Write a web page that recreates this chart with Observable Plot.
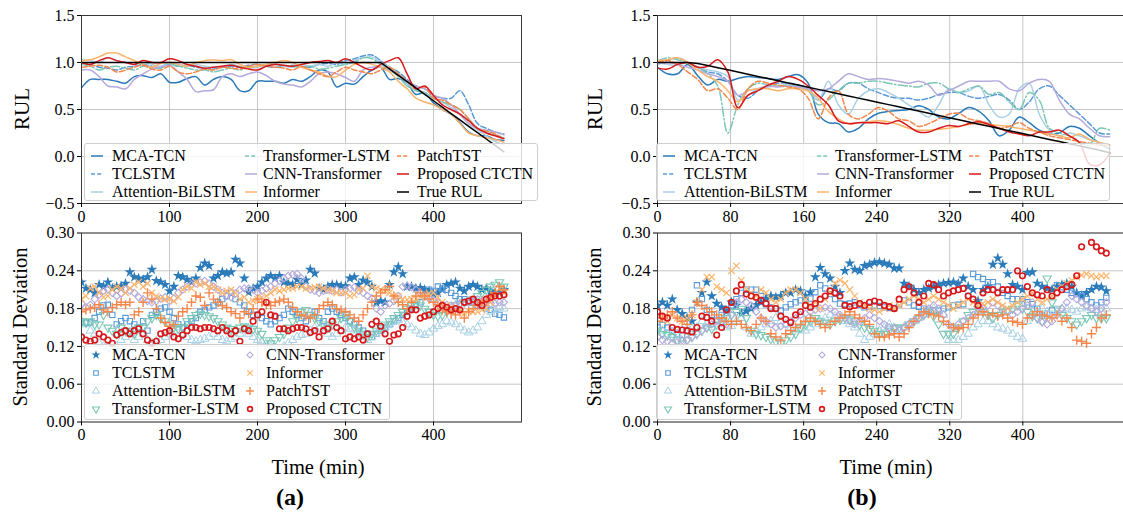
<!DOCTYPE html>
<html><head><meta charset="utf-8">
<script src="https://cdn.jsdelivr.net/npm/d3@7"></script>
<script src="https://cdn.jsdelivr.net/npm/@observablehq/plot@0.6"></script>
<style>
html,body{margin:0;padding:0;background:#fff;overflow:hidden}
#root{position:relative;width:1123px;height:514px;overflow:hidden;font-family:"Liberation Serif","Times New Roman",serif;color:#000}
#root svg text{font-family:"Liberation Serif","Times New Roman",serif !important;}
.txt{position:absolute;white-space:nowrap;line-height:1}
.legbox{position:absolute;background:rgba(255,255,255,0.8);border:1px solid #cfcfcf;border-radius:3px;box-sizing:border-box}
</style></head><body><div id="root"></div>
<script>
// ---------------- DATA ----------------
const names = ["MCA-TCN","TCLSTM","Attention-BiLSTM","Transformer-LSTM","CNN-Transformer","Informer","PatchTST","Proposed CTCTN"];
const colors = {"MCA-TCN":"#2b7bba","TCLSTM":"#5a9ad8","Attention-BiLSTM":"#a8d1e4","Transformer-LSTM":"#7cc7b6","CNN-Transformer":"#b5aadb","Informer":"#fdb46a","PatchTST":"#f4874b","Proposed CTCTN":"#d7191c","True RUL":"#000000"};

const xTicksA = [0,100,200,300,400];
const xTicksB = [0,80,160,240,320,400];
const yTicksRUL = [-0.5,0,0.5,1.0,1.5];
const yTicksSD = [0,0.06,0.12,0.18,0.24,0.30];

// line time grids (min)
const tLineA = [0,10,20,30,40,50,60,70,80,90,100,110,120,130,140,150,160,170,180,190,200,210,220,230,240,250,260,270,280,290,300,310,320,330,340,350,360,370,380,390,400,410,420,430,440,450,460,470,480];
const tLineB = [0,11,22,33,44,55,66,77,88,99,110,121,132,143,154,165,176,187,198,209,220,231,242,253,264,275,286,297,308,319,330,341,352,363,374,385,396,407,418,429,440,451,462,473,484,495];

// (a) RUL predictions
const rulA_true = [1,1,1,1,1,1,1,1,1,1,1,1,1,1,1,1,1,1,1,1,1,1,1,1,1,1,1,1,1,1,1,1,1,1,1,.932,.864,.796,.729,.661,.593,.525,.457,.389,.321,.254,.186,.118,.050];
const rulA_mca = [.73,.82,.82,.82,.80,.78,.85,.86,.84,.88, .79,.79,.83,.85,.76,.82,.85,.82,.70,.70, .80,.80,.80,.78,.82,.80,.85,.92,.90,.74, .78,.77,.85,.92,.95,.82,.83,.78,.66,.68, .57,.50,.45,.36,.26,.22,.22,.18,.17];
const rulA_tcl = [1.0,.98,.95,.94,.92,.95,.96,.98,.96,.95, .98,.96,.97,.95,.94,.93,.95,.96,.95,.97, .98,.96,.95,.96,.97,.96,.95,.98,.99,.98, 1.02,1.04,1.07,1.08,1.02,.95,.90,.82,.75,.72, .65,.62,.62,.70,.55,.35,.30,.26,.24];
const rulA_att = [1.03,1.02,1.0,1.05,1.02,1.0,.98,1.0,.98,.96, 1.0,.98,.97,.98,.96,.95,.96,.98,.96,.94, .95,.97,.98,.96,.95,.98,.96,.98,.96,1.0, .98,1.02,1.05,1.06,1.0,.95,.88,.78,.70,.68, .62,.58,.52,.45,.35,.28,.22,.16,.12];
const rulA_tls = [.98,.96,.92,.95,.96,.94,.92,.96,.95,.94, .98,.96,.94,.92,.92,.90,.92,.94,.92,.95, .96,.98,.98,.97,.96,.95,.96,.93,.94,.96, .98,1.0,1.05,1.04,.98,.92,.85,.75,.70,.68, .62,.58,.55,.50,.40,.30,.26,.23,.20];
const rulA_cnn = [.92,.92,.85,.75,.74,.72,.82,.88,.93,.95, .97,.90,.82,.69,.70,.71,.85,.88,.85,.88, .90,.86,.80,.77,.76,.74,.80,.88,.90,.88, .84,.80,.92,.95,.95,.92,.88,.80,.75,.72, .65,.62,.55,.45,.35,.30,.28,.26,.23];
const rulA_inf = [1.02,1.03,1.06,1.10,1.10,1.06,1.02,.98,.95,.99, 1.0,.98,.96,1.0,1.02,1.03,1.02,1.03,.98,.95, .96,.98,1.0,1.02,1.0,.95,.92,.90,.85,.85, .92,.98,1.0,.98,.95,.90,.80,.72,.62,.58, .55,.50,.45,.35,.25,.22,.20,.18,.15];
const rulA_pat = [.95,.96,.97,.95,.90,.92,.95,.97,.93,.92, .96,.90,.88,.90,.93,.92,.95,.94,.93,.96, .98,.96,.95,.94,.92,.96,.92,.88,.85,.90, .95,.92,.90,.88,.92,.95,.88,.80,.72,.74, .62,.60,.55,.50,.40,.30,.27,.24,.18];
const rulA_pro = [1.0,.98,1.02,1.05,1.02,1.0,.98,1.02,1.0,1.0, 1.04,1.02,.98,.96,.94,.95,.96,.97,.95,.93, .92,.96,.98,.97,.96,.98,1.0,1.01,1.02,1.0, 1.04,1.0,.95,.92,.98,1.02,1.05,.88,.72,.75, .65,.55,.50,.45,.38,.30,.25,.22,.19];

// (b) RUL predictions
const rulB_true = [1,1,1,1,.990,.968,.945,.922,.899,.876,.852,.829,.806,.783,.760,.737,.714,.691,.668,.644,.621,.598,.575,.552,.529,.506,.483,.460,.436,.413,.390,.367,.344,.321,.298,.275,.252,.228,.205,.182,.159,.136,.113,.090,.067,.040];
const rulB_mca = [.95,.88,.88,.98,.86,.76,.82,.80,.83,.85, .84,.83,.82,.85,.87,.78,.45,.36,.35,.26, .30,.40,.46,.48,.49,.50,.54,.50,.42,.40, .46,.52,.48,.38,.22,.28,.42,.36,.28,.24, .25,.32,.30,.22,.14,.08];
const rulB_tcl = [1.0,1.02,1.05,1.0,.95,.90,.88,.80,.65,.62, .70,.75,.78,.78,.76,.70,.60,.72,.70,.78, .78,.72,.68,.64,.62,.62,.60,.62,.66,.68, .68,.64,.62,.64,.66,.60,.50,.58,.72,.75, .65,.55,.45,.35,.25,.24];
const rulB_att = [1.0,.98,.97,1.0,.95,.92,.90,.85,.60,.65, .72,.74,.75,.76,.75,.72,.60,.80,.55,.45, .62,.70,.72,.68,.62,.55,.48,.42,.55,.72, .68,.70,.75,.55,.42,.45,.72,.78,.45,.28, .22,.25,.22,.18,.15,.12];
const rulB_tls = [1.02,1.05,1.03,1.0,.95,.88,.75,.25,.55,.72, .78,.76,.75,.76,.74,.70,.55,.60,.70,.78, .78,.80,.80,.78,.76,.75,.74,.78,.78,.72, .68,.72,.75,.66,.68,.58,.50,.68,.60,.30, .25,.22,.15,.12,.30,.28];
const rulB_cnn = [.98,1.0,.98,.95,.92,.88,.85,.80,.65,.70, .72,.75,.74,.75,.74,.72,.70,.72,.80,.88, .85,.82,.83,.82,.80,.78,.80,.76,.65,.70, .75,.80,.80,.80,.80,.72,.70,.78,.82,.80, .60,.45,.40,.30,.22,.21];
const rulB_inf = [1.02,1.03,1.05,1.0,.92,.85,.80,.70,.58,.70, .72,.72,.70,.72,.72,.70,.62,.48,.40,.35, .36,.37,.38,.37,.34,.30,.28,.28,.29,.30, .32,.34,.35,.34,.33,.32,.30,.28,.26,.24, .22,.20,.24,.18,.15,.12];
const rulB_pat = [1.0,1.02,.98,.90,.82,.70,.72,.62,.50,.72, .80,.78,.76,.74,.72,.62,.40,.62,.70,.45, .40,.45,.52,.48,.40,.38,.32,.35,.40,.45, .46,.40,.38,.35,.30,.32,.36,.30,.26,.22, .20,.18,.16,.14,.12,.12];
const rulB_pro = [.94,.93,.98,1.0,.95,.96,1.03,.90,.52,.65, .70,.76,.80,.85,.82,.75,.65,.55,.38,.35, .36,.36,.36,.35,.38,.32,.26,.26,.30,.33, .32,.35,.37,.34,.30,.26,.24,.22,.26,.26, .28,.22,.15,-.08,-.09,.03];

// scatter time grids (min)
const tSdA = [0,5,10,15,20,25,30,35,40,45,50,55,60,65,70,75,80,85,90,95,100,105,110,115,120,125,130,135,140,145,150,155,160,165,170,175,180,185,190,195,200,205,210,215,220,225,230,235,240,245,250,255,260,265,270,275,280,285,290,295,300,305,310,315,320,325,330,335,340,345,350,355,360,365,370,375,380,385,390,395,400,405,410,415,420,425,430,435,440,445,450,455,460,465,470,475,480];
const tSdB = [0,5.4,10.8,16.2,21.6,27,32.4,37.8,43.2,48.6,54,59.4,64.8,70.2,75.6,81,86.4,91.8,97.2,102.6,108,113.4,118.8,124.2,129.6,135,140.4,145.8,151.2,156.6,162,167.4,172.8,178.2,183.6,189,194.4,199.8,205.2,210.6,216,221.4,226.8,232.2,237.6,243,248.4,253.8,259.2,264.6,270,275.4,280.8,286.2,291.6,297,302.4,307.8,313.2,318.6,324,329.4,334.8,340.2,345.6,351,356.4,361.8,367.2,372.6,378,383.4,388.8,394.2,399.6,405,410.4,415.8,421.2,426.6,432,437.4,442.8,448.2,453.6,459,464.4,469.8,475.2,480.6,486,491.4];

// (a) standard deviation
const sdA_mca = [.222,.212,.210,.205,.218,.215,.222,.212,.215,.216, .220,.238,.230,.228,.226,.230,.242,.224,.222,.218, .208,.215,.232,.230,.226,.222,.228,.245,.252,.248, .228,.232,.238,.236,.238,.258,.252,.228,.206,.212, .215,.222,.228,.232,.228,.232,.222,.220,.218,.226, .218,.225,.242,.236,.212,.210,.215,.218,.218,.216, .216,.228,.230,.218,.225,.222,.215,.190,.192,.190, .218,.238,.246,.235,.215,.215,.212,.213,.210,.208, .202,.205,.210,.218,.220,.222,.212,.208,.215,.218, .215,.210,.212,.208,.205,.206,.210];
const sdA_tcl = [.160,.158,.158,.165,.175,.185,.186,.170,.155,.160, .165,.160,.155,.150,.160,.145,.170,.175,.180,.182, .175,.165,.155,.150,.155,.160,.165,.175,.178,.182, .185,.190,.195,.200,.205,.195,.190,.185,.175,.170, .170,.165,.160,.155,.160,.165,.170,.180,.175,.170, .165,.160,.170,.175,.165,.160,.175,.180,.175,.170, .165,.160,.155,.150,.145,.140,.135,.140,.145,.150, .155,.160,.165,.170,.175,.180,.185,.190,.200,.210, .208,.215,.212,.210,.205,.200,.195,.195,.190,.190, .185,.185,.180,.178,.172,.170,.166];
const sdA_att = [.160,.155,.145,.140,.125,.120,.118,.115,.120,.130, .135,.140,.130,.135,.140,.130,.125,.128,.130,.135, .140,.145,.150,.140,.135,.130,.128,.130,.132,.135, .140,.135,.130,.128,.132,.135,.140,.145,.140,.135, .130,.128,.125,.120,.118,.115,.120,.125,.130,.135, .138,.140,.145,.150,.148,.145,.140,.135,.140,.145, .150,.148,.145,.140,.135,.130,.135,.140,.145,.150, .155,.160,.162,.158,.155,.150,.145,.140,.138,.142, .148,.152,.155,.160,.158,.155,.150,.145,.142,.145, .150,.160,.170,.175,.178,.182,.180];
const sdA_tls = [.160,.158,.160,.155,.155,.170,.150,.145,.140,.150, .145,.145,.140,.150,.150,.160,.165,.170,.165,.160, .155,.150,.148,.150,.160,.165,.170,.172,.170,.168, .165,.160,.155,.150,.148,.145,.150,.152,.150,.148, .145,.140,.130,.125,.130,.135,.140,.150,.160,.165, .175,.178,.170,.165,.160,.155,.150,.155,.160,.165, .170,.160,.150,.145,.140,.135,.140,.145,.150,.155, .160,.165,.170,.175,.180,.185,.188,.185,.180,.175, .170,.168,.170,.175,.180,.185,.188,.190,.192,.195, .200,.205,.210,.215,.218,.222,.215];
const sdA_cnn = [.188,.182,.186,.195,.202,.208,.210,.205,.200,.204, .210,.208,.205,.198,.195,.192,.190,.192,.196,.198, .192,.196,.205,.210,.215,.218,.220,.222,.224,.220, .215,.210,.205,.200,.198,.204,.210,.212,.212,.210, .205,.208,.212,.215,.220,.224,.228,.232,.234,.235, .228,.215,.210,.208,.205,.208,.210,.208,.210,.206, .210,.212,.214,.208,.205,.200,.196,.180,.175,.185, .188,.192,.200,.215,.216,.214,.210,.205,.200,.196, .194,.190,.186,.186,.185,.186,.188,.190,.190,.192, .195,.192,.190,.188,.188,.190,.190];
const sdA_inf = [.195,.200,.212,.215,.205,.198,.200,.210,.215,.212, .205,.212,.218,.222,.215,.220,.205,.200,.196,.195, .195,.192,.198,.210,.215,.212,.222,.218,.220,.215, .215,.210,.205,.208,.210,.205,.195,.198,.190,.192, .195,.198,.200,.205,.210,.208,.210,.212,.212,.215, .215,.212,.212,.214,.215,.212,.210,.208,.205,.205, .205,.200,.202,.210,.212,.232,.215,.212,.210,.208, .205,.200,.200,.195,.194,.195,.196,.198,.200,.204, .205,.198,.190,.185,.182,.178,.175,.172,.176,.175, .175,.178,.180,.190,.200,.212,.205];
const sdA_pat = [.175,.178,.180,.182,.186,.178,.175,.182,.186,.190, .186,.190,.170,.175,.190,.205,.195,.180,.165,.158, .152,.155,.168,.175,.180,.190,.200,.198,.185,.205, .195,.190,.185,.182,.175,.172,.165,.175,.172,.180, .195,.190,.186,.185,.190,.192,.195,.190,.182,.175, .170,.168,.165,.170,.180,.185,.190,.186,.180,.178, .175,.170,.165,.160,.170,.180,.190,.200,.205,.210, .215,.200,.190,.186,.180,.190,.200,.205,.200,.195, .190,.186,.178,.175,.172,.170,.175,.165,.175,.180, .185,.190,.192,.200,.205,.215,.210];
const sdA_pro = [.135,.130,.128,.130,.140,.135,.130,.125,.138,.142, .145,.140,.145,.148,.140,.130,.125,.128,.140,.142, .145,.135,.132,.138,.145,.150,.150,.148,.150,.150, .148,.145,.150,.145,.140,.145,.128,.148,.145,.160, .170,.175,.190,.170,.168,.148,.148,.145,.148,.150, .150,.148,.142,.145,.135,.145,.148,.160,.150,.145, .132,.135,.132,.135,.130,.140,.155,.160,.152,.140, .128,.138,.140,.150,.168,.178,.178,.165,.168,.170, .175,.180,.185,.182,.178,.180,.178,.190,.192,.195, .190,.185,.195,.198,.200,.200,.202];

// (b) standard deviation
const sdB_mca = [.185,.190,.185,.195,.178,.172,.165,.160,.190,.205, .222,.200,.188,.182,.176,.190,.185,.172,.176,.180, .186,.190,.196,.200,.198,.200,.205,.205,.210,.208, .200,.206,.230,.245,.235,.228,.215,.205,.240,.252, .242,.240,.248,.250,.253,.254,.252,.250,.244,.244, .220,.215,.210,.205,.210,.212,.215,.218,.220,.221, .222,.220,.228,.215,.210,.192,.210,.215,.250,.260, .250,.235,.218,.215,.210,.237,.238,.220,.215,.212, .210,.215,.218,.220,.215,.205,.200,.205,.210,.215, .214,.208];
const sdB_tcl = [.150,.154,.150,.145,.140,.138,.145,.178,.217,.195, .178,.170,.162,.170,.176,.185,.195,.205,.210,.210, .210,.200,.187,.182,.180,.177,.182,.187,.190,.193, .195,.196,.206,.217,.212,.203,.195,.188,.187,.188, .190,.186,.182,.183,.185,.184,.182,.181,.181,.187, .193,.190,.185,.183,.180,.178,.177,.177,.180,.182, .185,.186,.187,.200,.235,.230,.227,.222,.222,.215, .205,.200,.195,.195,.195,.190,.187,.180,.169,.172, .178,.217,.214,.210,.205,.203,.200,.195,.190,.185, .190,.197];
const sdB_att = [.150,.145,.140,.138,.140,.145,.150,.148,.150,.160, .155,.150,.160,.155,.150,.152,.160,.165,.150,.140, .145,.150,.155,.160,.165,.160,.155,.150,.145,.148, .145,.150,.155,.160,.165,.170,.168,.165,.160,.155, .150,.140,.130,.135,.140,.145,.150,.155,.150,.145, .150,.155,.160,.165,.170,.175,.180,.175,.170,.130, .130,.130,.135,.140,.150,.155,.160,.160,.155,.150, .148,.145,.140,.135,.132,.160,.170,.175,.180,.175, .170,.175,.180,.180,.178,.175,.180,.182,.180,.178, .175,.180];
const sdB_tls = [.145,.140,.138,.135,.130,.125,.130,.135,.140,.145, .150,.148,.155,.160,.165,.170,.175,.180,.165,.145, .140,.138,.135,.132,.128,.125,.130,.135,.140,.150, .155,.160,.165,.160,.158,.155,.160,.162,.165,.163, .160,.155,.150,.148,.145,.140,.140,.145,.150,.150, .150,.155,.160,.165,.170,.175,.168,.155,.140,.140, .140,.150,.160,.170,.175,.180,.175,.170,.165,.170, .175,.178,.180,.185,.180,.175,.168,.165,.160,.228, .190,.180,.170,.165,.160,.155,.160,.165,.170,.165, .165,.165];
const sdB_cnn = [.135,.130,.128,.125,.127,.130,.130,.135,.140,.145, .150,.155,.160,.158,.155,.170,.190,.195,.190,.185, .175,.165,.160,.155,.150,.152,.155,.160,.165,.170, .172,.175,.178,.180,.182,.180,.175,.170,.165,.160, .155,.160,.165,.170,.165,.160,.155,.150,.148,.145, .150,.155,.160,.165,.170,.180,.185,.180,.170,.155, .150,.155,.160,.165,.170,.175,.180,.185,.190,.185, .180,.175,.170,.175,.180,.185,.190,.165,.158,.155, .160,.170,.180,.190,.200,.195,.190,.185,.180,.175, .180,.190];
const sdB_inf = [.170,.165,.160,.170,.165,.160,.165,.170,.190,.210, .230,.230,.215,.210,.205,.240,.248,.225,.210,.205, .200,.210,.205,.195,.190,.195,.205,.210,.210,.205, .195,.185,.190,.180,.195,.205,.220,.225,.220,.210, .200,.190,.185,.180,.178,.175,.180,.185,.180,.185, .190,.195,.200,.195,.190,.195,.200,.195,.190,.185, .180,.185,.190,.195,.190,.185,.188,.190,.195,.190, .185,.180,.185,.190,.195,.200,.205,.195,.190,.195, .200,.210,.215,.220,.225,.230,.233,.235,.232,.230, .232,.232];
const sdB_pat = [.160,.165,.170,.175,.165,.160,.155,.170,.190,.185, .180,.175,.170,.165,.160,.155,.160,.155,.150,.145, .155,.165,.160,.140,.135,.130,.140,.145,.150,.155, .160,.165,.160,.155,.150,.155,.160,.165,.170,.175, .170,.165,.160,.155,.140,.135,.135,.138,.140,.135, .140,.150,.160,.170,.175,.172,.170,.168,.160,.155, .150,.148,.150,.155,.165,.170,.175,.170,.172,.168, .170,.165,.160,.158,.155,.165,.170,.175,.170,.168, .165,.170,.160,.165,.150,.130,.128,.125,.140,.150, .165,.170];
const sdB_pro = [.175,.168,.165,.150,.147,.146,.145,.143,.150,.168, .166,.160,.138,.150,.178,.190,.208,.218,.203,.200, .198,.193,.188,.180,.180,.168,.163,.158,.170,.175, .185,.182,.188,.195,.200,.208,.205,.200,.185,.183, .185,.188,.185,.190,.192,.190,.185,.183,.180,.195, .210,.215,.205,.190,.200,.220,.218,.210,.200,.205, .208,.210,.212,.200,.195,.185,.205,.210,.210,.205, .210,.210,.210,.240,.232,.215,.205,.202,.200,.210, .200,.205,.210,.215,.218,.232,.278,null,.285,.278, .272,.268];

// ---------------- STYLES ----------------
const lineStyle = {
  "MCA-TCN":{dash:null},
  "TCLSTM":{dash:"5.5,2.4"},
  "Attention-BiLSTM":{dash:null},
  "Transformer-LSTM":{dash:"9,2.4,1.5,2.4"},
  "CNN-Transformer":{dash:null},
  "Informer":{dash:null},
  "PatchTST":{dash:"5.5,2.4"},
  "Proposed CTCTN":{dash:null},
  "True RUL":{dash:null}
};
const markerStyle = {
  "MCA-TCN":{symbol:"star", filled:true, r:3.4, rotate:0, sw:0},
  "TCLSTM":{symbol:"square", filled:false, r:3.0, rotate:0, sw:1.1},
  "Attention-BiLSTM":{symbol:"triangle", filled:false, r:3.1, rotate:0, sw:1.0},
  "Transformer-LSTM":{symbol:"triangle", filled:false, r:3.1, rotate:180, sw:1.1},
  "CNN-Transformer":{symbol:"square", filled:false, r:2.9, rotate:45, sw:1.1},
  "Informer":{symbol:"times", filled:false, r:3.0, rotate:0, sw:1.2},
  "PatchTST":{symbol:"plus", filled:false, r:3.1, rotate:0, sw:1.4},
  "Proposed CTCTN":{symbol:"circle", filled:false, r:2.8, rotate:0, sw:1.6}
};

const FONT = '"Liberation Serif","Times New Roman",serif';
const root = document.getElementById("root");
const minusFmt = (digits) => d => (d < 0 ? "\u2212" : "") + Math.abs(d).toFixed(digits);

function rowsOf(t, v){ const out=[]; t.forEach((x,i)=>{ if(v[i]!==null && v[i]!==undefined) out.push({t:x, v:v[i]}); }); return out; }

function basePlot({xDomain, xTicks, yDomain, yTicks, yDigits, width, height, mL, mR, mT, mB, marks}){
  const svg = Plot.plot({
    width, height, marginLeft:mL, marginRight:mR, marginTop:mT, marginBottom:mB,
    style:{fontFamily:FONT, fontSize:"16px", color:"#000", background:"transparent", overflow:"visible"},
    x:{domain:xDomain, label:null},
    y:{domain:yDomain, label:null},
    marks:[
      Plot.gridX({ticks:xTicks, stroke:"#c6c6c6", strokeOpacity:1, strokeWidth:1}),
      Plot.gridY({ticks:yTicks, stroke:"#c6c6c6", strokeOpacity:1, strokeWidth:1}),
      ...marks,
      Plot.frame({stroke:"#3a3a3a", strokeWidth:1}),
      Plot.axisX({ticks:xTicks, tickFormat:d=>String(d), tickSize:4, tickPadding:3, label:null, fontSize:16}),
      Plot.axisY({ticks:yTicks, tickFormat:minusFmt(yDigits), tickSize:4, tickPadding:3, label:null, fontSize:16})
    ]
  });
  svg.setAttribute("font-family", FONT);
  svg.querySelectorAll("g, text").forEach(el => { el.setAttribute("font-family", FONT); });
  svg.querySelectorAll("text").forEach(el => { el.style.fontFamily = FONT; el.style.fontSize = "16px"; el.style.fill = "#000"; });
  return svg;
}

const panelA = {left:0, width:575, mL:81, mR:54, domain:[0,500], ticks:xTicksA};
const panelB = {left:572, width:572, mL:85, mR:13, domain:[0,519], ticks:xTicksB};

function linesPanel(t, seriesMap, P){
  const marks = [];
  for (const [name, vals] of seriesMap){
    marks.push(Plot.line(rowsOf(t, vals), {x:"t", y:"v", stroke:colors[name], strokeWidth:1.5,
      curve: name === "True RUL" ? "linear" : "catmull-rom",
      strokeDasharray:lineStyle[name].dash || undefined, clip:true}));
  }
  const svg = basePlot({xDomain:P.domain, xTicks:P.ticks, yDomain:[-0.5,1.5], yTicks:yTicksRUL, yDigits:1,
    width:P.width, height:232, mL:P.mL, mR:P.mR, mT:15, mB:29, marks});
  svg.style.position="absolute"; svg.style.left=P.left+"px"; svg.style.top="0px";
  root.appendChild(svg);
}

function scatterPanel(t, seriesMap, P){
  const marks = [];
  for (const [name, vals] of seriesMap){
    const m = markerStyle[name];
    marks.push(Plot.dot(rowsOf(t, vals), {x:"t", y:"v", symbol:m.symbol, r:m.r, rotate:m.rotate,
      fill: m.filled ? colors[name] : "none", stroke: m.filled ? "none" : colors[name], strokeWidth:m.sw, clip:true}));
  }
  const svg = basePlot({xDomain:P.domain, xTicks:P.ticks, yDomain:[0,0.30], yTicks:yTicksSD, yDigits:2,
    width:P.width, height:232, mL:P.mL, mR:P.mR, mT:7.5, mB:35.5, marks});
  svg.style.position="absolute"; svg.style.left=P.left+"px"; svg.style.top="225px";
  root.appendChild(svg);
}

function addText(txt, cx, cy, size, {rotate=0, bold=false}={}){
  const d = document.createElement("div");
  d.className="txt"; d.textContent=txt;
  d.style.fontSize=size+"px"; d.style.fontWeight=bold?"bold":"normal";
  d.style.left=cx+"px"; d.style.top=cy+"px";
  d.style.transform=`translate(-50%,-50%) rotate(${rotate}deg)`;
  root.appendChild(d);
}

const symbolMap = {star:d3.symbolStar, square:d3.symbolSquare, triangle:d3.symbolTriangle, times:d3.symbolTimes, plus:d3.symbolPlus, circle:d3.symbolCircle};

function legendSwatchLine(name){
  const s = d3.create("svg").attr("width",12).attr("height",10);
  s.append("line").attr("x1",0).attr("x2",12).attr("y1",5).attr("y2",5)
    .attr("stroke",colors[name]).attr("stroke-width",1.5)
    .attr("stroke-dasharray", lineStyle[name].dash ? "4,2.2" : null);
  return s.node();
}
function legendSwatchMarker(name){
  const m = markerStyle[name];
  const s = d3.create("svg").attr("width",12).attr("height",12);
  const r = m.r*0.85;
  s.append("path").attr("d", d3.symbol(symbolMap[m.symbol], r*r*Math.PI)())
    .attr("transform",`translate(6,6) rotate(${m.rotate})`)
    .attr("fill", m.filled?colors[name]:"none").attr("stroke", m.filled?"none":colors[name]).attr("stroke-width", m.sw);
  return s.node();
}

function addLegend(box, entries){
  const b = document.createElement("div");
  b.className="legbox";
  Object.assign(b.style,{left:box.x+"px", top:box.y+"px", width:box.w+"px", height:box.h+"px"});
  root.appendChild(b);
  for (const e of entries){
    const sw = e.swatch;
    sw.style.position="absolute"; sw.style.left=e.sx+"px"; sw.style.top=(e.y - sw.getAttribute("height")/2)+"px";
    root.appendChild(sw);
    const d = document.createElement("div");
    d.className="txt"; d.textContent=e.label; d.style.fontSize="16px";
    d.style.left=e.tx+"px"; d.style.top=e.y+"px"; d.style.transform="translate(0,-50%)";
    root.appendChild(d);
  }
}

function topLegend(dx){
  const cols = [["MCA-TCN","TCLSTM","Attention-BiLSTM"],["Transformer-LSTM","CNN-Transformer","Informer"],["PatchTST","Proposed CTCTN","True RUL"]];
  const sx=[91,245,397], tx=[112,263,417], ys=[156,174,192];
  const entries=[];
  cols.forEach((c,ci)=>c.forEach((n,ri)=>entries.push({label:n, swatch:legendSwatchLine(n), sx:sx[ci]+dx, tx:tx[ci]+dx, y:ys[ri]})));
  addLegend({x:84+dx, y:143, w:454, h:58}, entries);
}
function bottomLegend(dx){
  const cols = [["MCA-TCN","TCLSTM","Attention-BiLSTM","Transformer-LSTM"],["CNN-Transformer","Informer","PatchTST","Proposed CTCTN"]];
  const sx=[90,244], tx=[112,266], ys=[355,373,391,409];
  const entries=[];
  cols.forEach((c,ci)=>c.forEach((n,ri)=>entries.push({label:n, swatch:legendSwatchMarker(n), sx:sx[ci]+dx, tx:tx[ci]+dx, y:ys[ri]})));
  addLegend({x:84+dx, y:344, w:306, h:76}, entries);
}

// ---------------- BUILD ----------------
const linesA = [["MCA-TCN",rulA_mca],["TCLSTM",rulA_tcl],["Attention-BiLSTM",rulA_att],["Transformer-LSTM",rulA_tls],["CNN-Transformer",rulA_cnn],["Informer",rulA_inf],["PatchTST",rulA_pat],["Proposed CTCTN",rulA_pro],["True RUL",rulA_true]];
const linesB = [["MCA-TCN",rulB_mca],["TCLSTM",rulB_tcl],["Attention-BiLSTM",rulB_att],["Transformer-LSTM",rulB_tls],["CNN-Transformer",rulB_cnn],["Informer",rulB_inf],["PatchTST",rulB_pat],["Proposed CTCTN",rulB_pro],["True RUL",rulB_true]];
const dotsA = [["MCA-TCN",sdA_mca],["TCLSTM",sdA_tcl],["Attention-BiLSTM",sdA_att],["Transformer-LSTM",sdA_tls],["CNN-Transformer",sdA_cnn],["Informer",sdA_inf],["PatchTST",sdA_pat],["Proposed CTCTN",sdA_pro]];
const dotsB = [["MCA-TCN",sdB_mca],["TCLSTM",sdB_tcl],["Attention-BiLSTM",sdB_att],["Transformer-LSTM",sdB_tls],["CNN-Transformer",sdB_cnn],["Informer",sdB_inf],["PatchTST",sdB_pat],["Proposed CTCTN",sdB_pro]];

linesPanel(tLineA, linesA, panelA);
linesPanel(tLineB, linesB, panelB);
scatterPanel(tSdA, dotsA, panelA);
scatterPanel(tSdB, dotsB, panelB);

topLegend(0); topLegend(572);
bottomLegend(0); bottomLegend(572);

addText("RUL", 22, 109, 21, {rotate:-90});
addText("RUL", 595, 109, 21, {rotate:-90});
addText("Standard Deviation", 20, 327, 20.5, {rotate:-90});
addText("Standard Deviation", 594, 327, 20.5, {rotate:-90});
addText("Time (min)", 318, 467, 20.5);
addText("Time (min)", 886, 467, 20.5);
addText("(a)", 290, 497, 24, {bold:true});
addText("(b)", 862, 497, 24, {bold:true});
</script></body></html>
